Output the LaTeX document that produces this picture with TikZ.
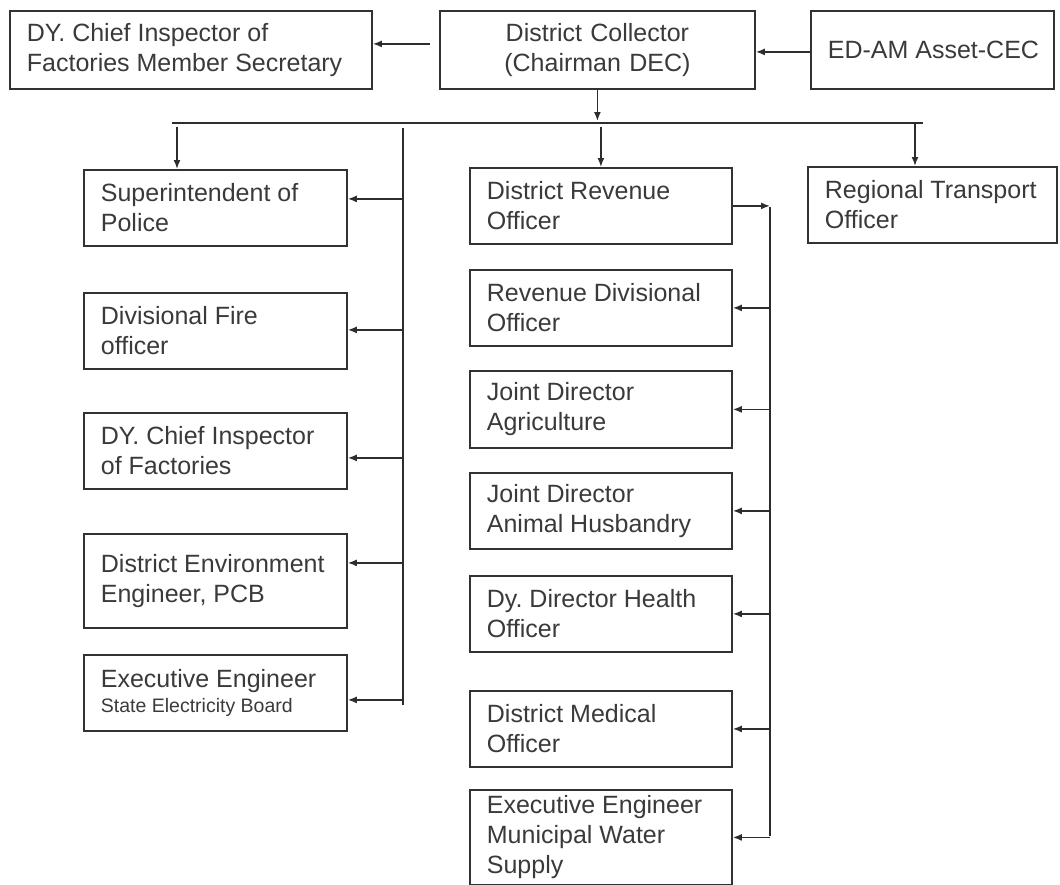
\documentclass[tikz,border=0pt]{standalone}
\usepackage{fontspec}
\setmainfont{Liberation Sans}
\usetikzlibrary{arrows.meta,positioning,calc}
\definecolor{frame}{RGB}{50,50,50}
\definecolor{ink}{RGB}{58,58,58}
\definecolor{wire}{RGB}{45,45,45}
\tikzset{
  >={Latex[length=9pt,width=7pt]},
  office/.style={draw=frame,line width=1.8pt,anchor=north west,align=flush left,
    inner xsep=17pt,inner ysep=0pt,text=ink,minimum height=76pt,
    font=\fontsize{25pt}{30pt}\selectfont\frenchspacing},
  lpost/.style={office,minimum width=263pt,text width=229pt},
  mpost/.style={office,minimum width=262pt,text width=228pt},
  link/.style={draw=wire,line width=1.6pt},
  flow/.style={->,link},
}

\begin{document}
\begin{tikzpicture}[x=1pt,y=-1pt]
  \useasboundingbox (0,0) rectangle (1060,884);
  % top row
  \node[office,minimum width=362pt,text width=328pt,minimum height=78pt] (dycims) at (9,10) {DY. Chief Inspector of\\Factories Member Secretary};
  \node[office,minimum width=315pt,text width=281pt,minimum height=78pt,align=center] (dc) at (439,10) {District Collector\\(Chairman DEC)};
  \node[office,text width=209pt,minimum height=78pt] (edam) at (810,10) {\mbox{ED-AM Asset-CEC}};
  % left column
  \node[lpost] (sp) at (83,169) {Superintendent of\\Police};
  \node[lpost] (dfo) at (83,292) {Divisional Fire\\officer};
  \node[lpost] (dycif) at (83,412) {DY. Chief Inspector\\of Factories};
  \node[lpost,minimum height=94pt] (dee) at (83,533) {District Environment\\Engineer, PCB};
  \node[lpost] (eeseb) at (83,654) {Executive Engineer\\[-5pt]{\fontsize{19.5pt}{22pt}\selectfont State Electricity Board}};
  % middle column
  \node[mpost] (dro) at (469,167) {District Revenue\\Officer};
  \node[mpost] (rdo) at (469,269) {Revenue Divisional\\Officer};
  \node[mpost,minimum height=77pt] (jda) at (469,370) {Joint Director\\Agriculture};
  \node[mpost] (jdah) at (469,472) {Joint Director\\Animal Husbandry};
  \node[mpost] (ddh) at (469,575) {Dy. Director Health\\Officer};
  \node[mpost] (dmo) at (469,690) {District Medical\\Officer};
  \node[mpost,minimum height=95pt] (eemws) at (469,789) {Executive Engineer\\Municipal Water\\Supply};
  % right column
  \node[office,minimum width=249pt,text width=215pt] (rto) at (807,166) {Regional Transport\\Officer};

  \draw[flow] ($(dc.west)+(-9,-6)$) -- ($(dycims.east)+(0,-6)$);
  \draw[flow] ($(edam.west)+(0,2)$) -- ($(dc.east)+(0,2)$);
  \coordinate (busl) at (172,123);
  \coordinate (busr) at (923,123);
  \draw[link] (busl) -- (busr);
  \draw[flow] (dc.south) -- ($(dc.south |- busl)+(0,-2)$);
  \coordinate (spdrop) at (177,127);
  \draw[flow] (spdrop) -- (spdrop |- sp.north);
  \draw[flow] ($(dro.north |- busl)+(0,4)$) -- (dro.north);
  \coordinate (rtodrop) at (915,123);
  \draw[flow] (rtodrop) -- (rtodrop |- rto.north);
  % left feeder
  \coordinate (ltop) at (403,128);
  \coordinate (lbot) at (403,705);
  \draw[link] (ltop) -- (lbot);
  \foreach \n/\dy in {sp/9,dfo/1,dycif/-7,dee/18,eeseb/-7}
    \draw[flow] ($(ltop |- \n.east)+(0,-\dy)$) -- ($(\n.east)+(0,-\dy)$);
  % middle feeder
  \coordinate (mtop) at (770,207);
  \coordinate (mbot) at (770,836);
  \draw[link] (mtop) -- (mbot);
  \draw[flow] (dro.east) -- (dro.east -| mtop);
  \foreach \n in {rdo,jda,jdah,ddh,dmo,eemws}
    \draw[flow] (mtop |- \n.east) -- (\n.east);
\end{tikzpicture}
\end{document}
